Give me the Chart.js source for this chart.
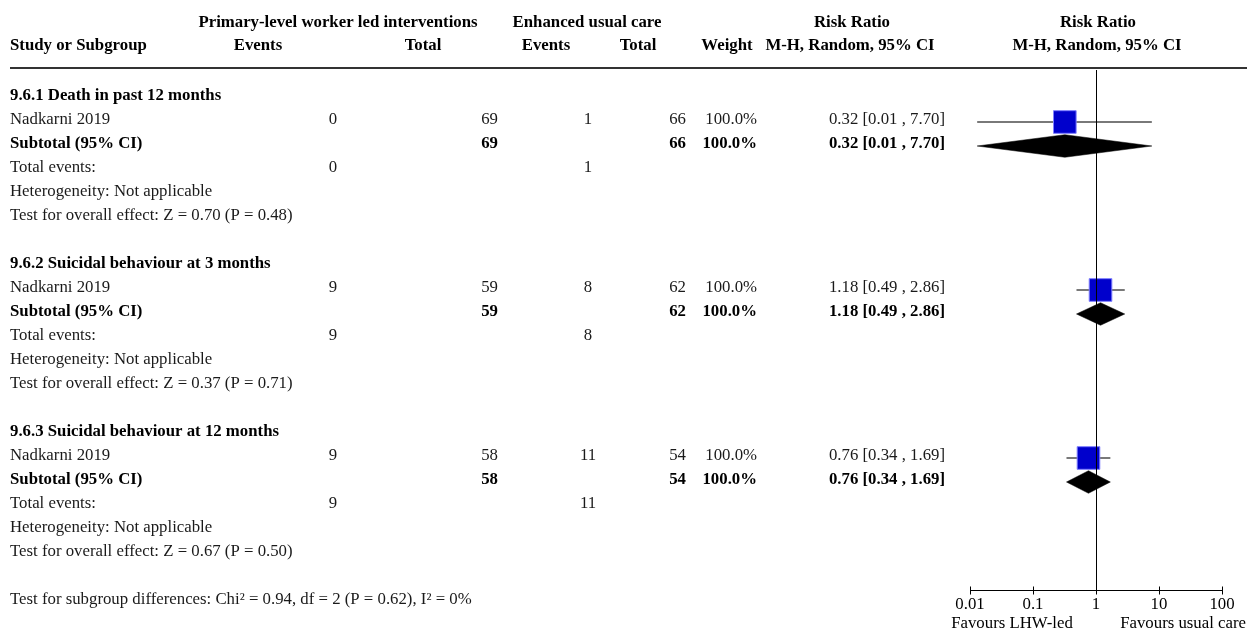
<!DOCTYPE html>
<html><head><meta charset="utf-8">
<script src="https://cdn.jsdelivr.net/npm/chart.js@4/dist/chart.umd.min.js"></script>
<style>html,body{margin:0;padding:0;background:#fff;overflow:hidden}#wrap{width:1247px;height:628px;position:relative}</style>
</head><body><div id="wrap"><canvas id="c"></canvas></div>
<script>
// ---- data ----
const subgroupTitles = ['9.6.1 Death in past 12 months', '9.6.2 Suicidal behaviour at 3 months', '9.6.3 Suicidal behaviour at 12 months'];
const studyNames = ['Nadkarni 2019', 'Nadkarni 2019', 'Nadkarni 2019'];
const expEvents = [0, 9, 9];
const expTotals = [69, 59, 58];
const ctlEvents = [1, 8, 11];
const ctlTotals = [66, 62, 54];
const weights = ['100.0%', '100.0%', '100.0%'];
const riskRatios = [0.32, 1.18, 0.76];
const ciLower = [0.013, 0.49, 0.34];
const ciUpper = [7.70, 2.86, 1.69];
const ciLabels = ['0.32 [0.01 , 7.70]', '1.18 [0.49 , 2.86]', '0.76 [0.34 , 1.69]'];
const heterogeneityTexts = ['Heterogeneity: Not applicable', 'Heterogeneity: Not applicable', 'Heterogeneity: Not applicable'];
const overallTests = ['Test for overall effect: Z = 0.70 (P = 0.48)', 'Test for overall effect: Z = 0.37 (P = 0.71)', 'Test for overall effect: Z = 0.67 (P = 0.50)'];
const subgroupTest = 'Test for subgroup differences: Chi\u00b2 = 0.94, df = 2 (P = 0.62), I\u00b2 = 0%';
const axisTicks = [0.01, 0.1, 1, 10, 100];
const axisTickLabels = ['0.01', '0.1', '1', '10', '100'];
const favoursLeft = 'Favours LHW-led';
const favoursRight = 'Favours usual care';

// ---- layout ----
const ROWS_PER_GROUP = 7;
const FONT = '"Liberation Serif", "Times New Roman", serif';
const FS = 16.8;
const TEXT_COLOR = '#1a1a1a';
const studyRow = g => g * ROWS_PER_GROUP + 1;
const subtotalRow = g => g * ROWS_PER_GROUP + 2;
const DIAMOND_HALF = 0.47;

const datasets = [];
// squares (drawn on top of CI lines)
datasets.push({
  type: 'scatter',
  data: riskRatios.map((v, g) => ({ x: v, y: studyRow(g) })),
  pointStyle: 'rect', pointRadius: 16, pointHoverRadius: 16,
  backgroundColor: '#0000CC', borderColor: '#7f7fff', borderWidth: 1,
  order: 0
});
// CI lines
riskRatios.forEach((v, g) => {
  datasets.push({
    type: 'line',
    data: [{ x: ciLower[g], y: studyRow(g) }, { x: ciUpper[g], y: studyRow(g) }],
    borderColor: '#4d4d4d', borderWidth: 1.5, pointRadius: 0, fill: false,
    order: 2
  });
});
// diamonds
riskRatios.forEach((v, g) => {
  const r = subtotalRow(g);
  datasets.push({
    type: 'line',
    data: [{ x: ciLower[g], y: r }, { x: v, y: r - DIAMOND_HALF }, { x: ciUpper[g], y: r }, { x: v, y: r + DIAMOND_HALF }, { x: ciLower[g], y: r }],
    borderColor: '#000', borderWidth: 0.5, backgroundColor: '#000', pointRadius: 0, fill: 'shape', tension: 0,
    order: 1
  });
});

const tablePlugin = {
  id: 'forestTable',
  afterDatasetsDraw(chart) {
    const ctx = chart.ctx;
    const xs = chart.scales.x, ys = chart.scales.y;
    const area = chart.chartArea;
    ctx.save();
    // reference line at RR = 1
    const x1 = Math.round(xs.getPixelForValue(1)) + 0.5;
    ctx.strokeStyle = '#000'; ctx.lineWidth = 1;
    ctx.beginPath(); ctx.moveTo(x1, area.top); ctx.lineTo(x1, area.bottom); ctx.stroke();
    // axis
    const ay = Math.round(area.bottom) + 0.5;
    ctx.beginPath();
    ctx.moveTo(xs.getPixelForValue(axisTicks[0]), ay);
    ctx.lineTo(xs.getPixelForValue(axisTicks[axisTicks.length - 1]), ay);
    axisTicks.forEach(t => {
      const px = Math.round(xs.getPixelForValue(t)) + 0.5;
      ctx.moveTo(px, ay - 4); ctx.lineTo(px, ay + 4);
    });
    ctx.stroke();
    ctx.fillStyle = '#000';
    ctx.font = FS + 'px ' + FONT;
    ctx.textAlign = 'center'; ctx.textBaseline = 'middle';
    axisTicks.forEach((t, i) => ctx.fillText(axisTickLabels[i], xs.getPixelForValue(t), ay + 14));
    ctx.fillText(favoursLeft, 1012, ay + 33);
    ctx.textAlign = 'right';
    ctx.fillText(favoursRight, 1246, ay + 33);

    // header
    ctx.strokeStyle = '#333'; ctx.lineWidth = 2;
    ctx.beginPath(); ctx.moveTo(10, 68); ctx.lineTo(1247, 68); ctx.stroke();
    const bold = 'bold ' + FS + 'px ' + FONT;
    const reg = FS + 'px ' + FONT;
    ctx.font = bold; ctx.fillStyle = '#000';
    ctx.textAlign = 'center';
    ctx.fillText('Primary-level worker led interventions', 338, 23);
    ctx.fillText('Enhanced usual care', 587, 23);
    ctx.fillText('Risk Ratio', 852, 23);
    ctx.fillText('Risk Ratio', 1098, 23);
    ctx.textAlign = 'left';
    ctx.fillText('Study or Subgroup', 10, 46);
    ctx.textAlign = 'center';
    ctx.fillText('Events', 258, 46);
    ctx.fillText('Total', 423, 46);
    ctx.fillText('Events', 546, 46);
    ctx.fillText('Total', 638, 46);
    ctx.fillText('Weight', 727, 46);
    ctx.fillText('M-H, Random, 95% CI', 850, 46);
    ctx.fillText('M-H, Random, 95% CI', 1097, 46);

    const TY = -2; // text sits slightly above marker centre
    const rowY = r => ys.getPixelForValue(r) + TY;
    for (let g = 0; g < subgroupTitles.length; g++) {
      const base = g * ROWS_PER_GROUP;
      ctx.fillStyle = '#000';
      ctx.font = bold; ctx.textAlign = 'left';
      ctx.fillText(subgroupTitles[g], 10, rowY(base));
      ctx.fillText('Subtotal (95% CI)', 10, rowY(base + 2));
      ctx.textAlign = 'right';
      ctx.fillText(String(expTotals[g]), 498, rowY(base + 2));
      ctx.fillText(String(ctlTotals[g]), 686, rowY(base + 2));
      ctx.fillText(weights[g], 757, rowY(base + 2));
      ctx.fillText(ciLabels[g], 945, rowY(base + 2));

      ctx.fillStyle = TEXT_COLOR;
      ctx.font = reg; ctx.textAlign = 'left';
      ctx.fillText(studyNames[g], 10, rowY(base + 1));
      ctx.fillText('Total events:', 10, rowY(base + 3));
      ctx.fillText(heterogeneityTexts[g], 10, rowY(base + 4));
      ctx.fillText(overallTests[g], 10, rowY(base + 5));
      ctx.textAlign = 'center';
      ctx.fillText(String(expEvents[g]), 333, rowY(base + 1));
      ctx.fillText(String(ctlEvents[g]), 588, rowY(base + 1));
      ctx.fillText(String(expEvents[g]), 333, rowY(base + 3));
      ctx.fillText(String(ctlEvents[g]), 588, rowY(base + 3));
      ctx.textAlign = 'right';
      ctx.fillText(String(expTotals[g]), 498, rowY(base + 1));
      ctx.fillText(String(ctlTotals[g]), 686, rowY(base + 1));
      ctx.fillText(weights[g], 757, rowY(base + 1));
      ctx.fillText(ciLabels[g], 945, rowY(base + 1));
    }
    ctx.textAlign = 'left'; ctx.fillStyle = TEXT_COLOR; ctx.font = reg;
    ctx.fillText(subgroupTest, 10, rowY(subgroupTitles.length * ROWS_PER_GROUP));
    ctx.restore();
  }
};

new Chart(document.getElementById('c'), {
  data: { datasets },
  options: {
    responsive: true, maintainAspectRatio: false, animation: false,
    layout: { padding: { left: 970, right: 25, top: 70, bottom: 38 } },
    plugins: { legend: { display: false }, tooltip: { enabled: false } },
    events: [],
    scales: {
      x: { type: 'logarithmic', min: 0.01, max: 100, display: false },
      y: { type: 'linear', min: -28 / 24, max: 492 / 24, reverse: true, display: false }
    }
  },
  plugins: [tablePlugin]
});
</script>
</body></html>
